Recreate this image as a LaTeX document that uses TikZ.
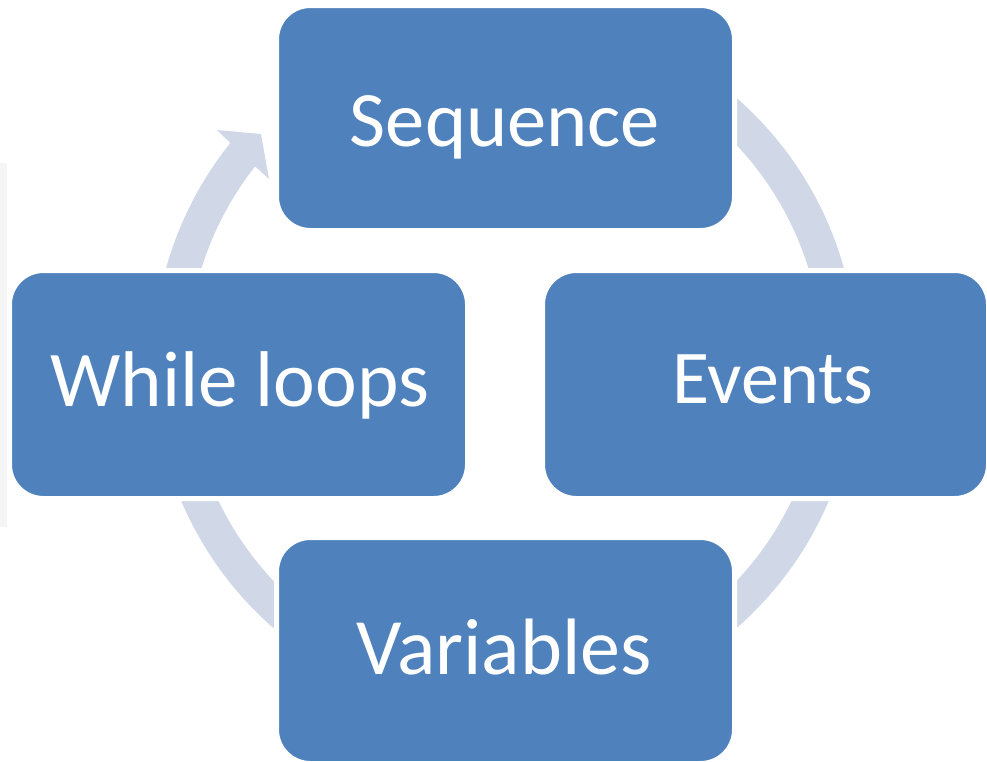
\documentclass[tikz,border=0pt]{standalone}
\usepackage{fontspec}
\setmainfont{Carlito}
\definecolor{boxblue}{HTML}{4F81BD}
\definecolor{ringblue}{HTML}{D0D8E8}
\definecolor{stripgray}{HTML}{F5F5F5}
\tikzset{
  stepbox/.style={rectangle, rounded corners=34pt, fill=boxblue, draw=white, line width=5pt, inner sep=0pt},
  steplabel/.style={text=white, inner sep=0pt, anchor=base},
}
\begin{document}
\begin{tikzpicture}[x=1pt,y=-1pt]
\useasboundingbox (0,0) rectangle (987,761);
\fill[stripgray] (0,163) rectangle (7,527);
% cycle arrow
\fill[ringblue]
  plot[domain=141.3:485, samples=160] ({505+352*cos(626.3-\x)},{363-352*sin(626.3-\x)})
  -- (217,130) -- (261,134) -- (269,179)
  -- plot[domain=141.8:485, samples=160] ({505+318*cos(\x)},{363-318*sin(\x)})
  -- cycle;
% boxes
\node[stepbox, minimum width=458pt, minimum height=225pt] (seq) at (505.5,118) {};
\node[stepbox, minimum width=458pt, minimum height=228pt] (while) at (238.5,384.5) {};
\node[stepbox, minimum width=446pt, minimum height=228pt] (events) at (765.5,384.5) {};
\node[stepbox, minimum width=458pt, minimum height=226pt] (vars) at (505.5,650.5) {};
% labels
\node[steplabel, font=\fontsize{78.5}{92}\selectfont] (seqt) at (505,146) {Sequence};
\node[steplabel, font=\fontsize{79}{92}\selectfont] (whilet) at (240,406.5) {While loops};
\node[steplabel, font=\fontsize{76}{90}\selectfont] (eventst) at (773,403) {Events};
\node[steplabel, font=\fontsize{80}{94}\selectfont] (varst) at (504,674) {Variables};
\end{tikzpicture}
\end{document}
